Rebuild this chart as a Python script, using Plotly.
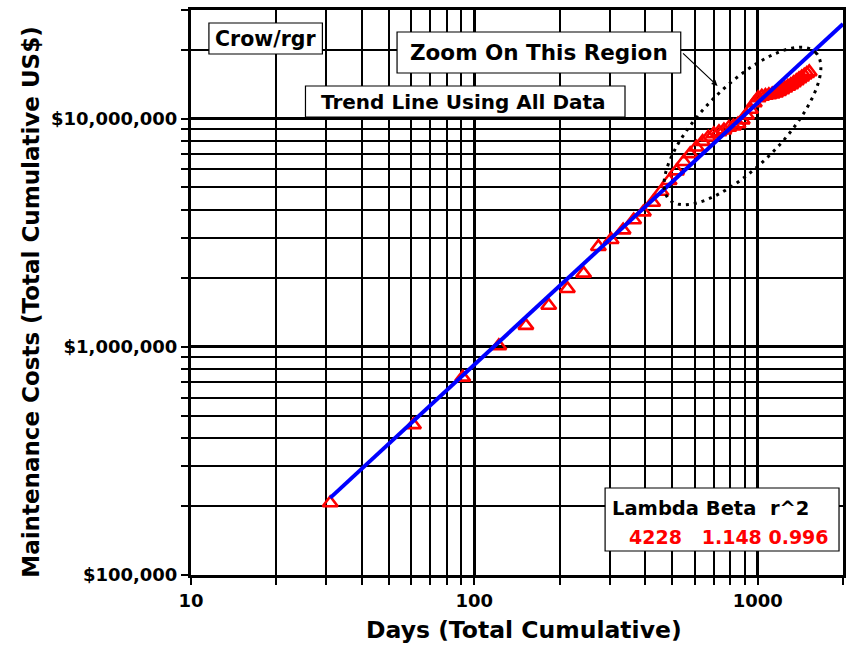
import math
import plotly.graph_objects as go

# ---------------- data ----------------
days = [31, 61, 91, 122, 152, 183, 213, 243, 274, 304, 335, 365, 395, 426, 456, 487,
        517, 548, 578, 608, 639, 669, 700, 730, 760, 791, 821, 852, 882, 913, 943, 973,
        1004, 1034, 1065, 1095, 1125, 1156, 1186, 1217, 1247, 1278, 1308, 1338, 1369,
        1399, 1430, 1460, 1490, 1520]
costs = [207000, 455000, 735000, 1010000, 1240000, 1520000, 1800000, 2100000,
         2750000, 2950000, 3250000, 3600000, 3900000, 4300000, 4800000, 5350000,
         5900000, 6480000, 7020000, 7500000, 7940000, 8300000, 8580000, 8760000,
         8920000, 9160000, 9280000, 9490000, 9870000, 10370000, 10990000, 11730000,
         12350000, 12550000, 12650000, 12720000, 12820000, 12950000, 13150000, 13400000,
         13630000, 13860000, 14080000, 14370000, 14660000, 14950000, 15240000, 15520000,
         15790000, 16050000]

LAMBDA = 4228
BETA = 1.148
R2 = 0.996
trend_days = [31, 2000]
trend_costs = [LAMBDA * d ** BETA for d in trend_days]

x_tickvals = [10, 100, 1000]
x_ticktext = ["10", "100", "1000"]
y_tickvals = [1e5, 1e6, 1e7]
y_ticktext = ["$100,000", "$1,000,000", "$10,000,000"]

# ---------------- layout helpers ----------------
W, H = 847, 645
ML, MR, MT, MB = 191, 1, 10, 70
PW = W - ML - MR
PH = H - MT - MB
FONT = "DejaVu Sans"


def px(x):
    return (x - ML) / PW


def py(y):
    return (MT + PH - y) / PH


fig = go.Figure()
fig.add_trace(go.Scatter(
    x=days, y=costs, mode="markers",
    marker=dict(symbol="triangle-up-open", size=13, color="red",
                line=dict(width=2.6, color="red")),
    showlegend=False, cliponaxis=True))
fig.add_trace(go.Scatter(
    x=trend_days, y=trend_costs, mode="lines",
    line=dict(color="#0000FF", width=4), showlegend=False))

axis_common = dict(
    type="log", showline=True, linecolor="black", linewidth=3, mirror=True,
    showgrid=True, gridcolor="black", gridwidth=3, zeroline=False,
    ticks="outside", ticklen=7, tickwidth=2, tickcolor="black",
    tickfont=dict(family=FONT, size=18, color="black", weight="bold"),
    minor=dict(dtick="D1", showgrid=True, gridcolor="black", gridwidth=1.6,
               ticks="outside", ticklen=7, tickwidth=1.5, tickcolor="black"),
)

fig.update_xaxes(range=[1, math.log10(2000)], tickvals=x_tickvals,
                 ticktext=x_ticktext, **axis_common)
fig.update_yaxes(range=[5, math.log10(3e7)], tickvals=y_tickvals,
                 ticktext=y_ticktext, **axis_common)

shapes = []
annotations = []

# dotted ellipse around the zoom region
cx, cy, a, b = 745, 126, 104, 40
c45 = math.cos(math.pi / 4)
pts = []
for i in range(0, 97):
    phi = 2 * math.pi * i / 96
    xx = cx + a * math.cos(phi) * c45 + b * math.sin(phi) * c45
    yy = cy - a * math.cos(phi) * c45 + b * math.sin(phi) * c45
    pts.append((px(xx), py(yy)))
path = "M " + " L ".join(f"{p[0]:.5f},{p[1]:.5f}" for p in pts) + " Z"
shapes.append(dict(type="path", xref="paper", yref="paper", path=path,
                   line=dict(color="black", width=3, dash="3px,5px")))


def box(x0, y0, x1, y1):
    shapes.append(dict(type="rect", xref="paper", yref="paper",
                       x0=px(x0), x1=px(x1), y0=py(y1), y1=py(y0),
                       fillcolor="white", line=dict(color="black", width=1.2),
                       layer="above"))


def text(x, y, s, size, color="black", xanchor="center"):
    annotations.append(dict(xref="paper", yref="paper", x=px(x), y=py(y),
                            text=s, showarrow=False, xanchor=xanchor,
                            yanchor="middle",
                            font=dict(family=FONT, size=size, color=color,
                                      weight="bold")))


box(209, 23, 323, 54)
text(266, 39, "Crow/rgr", 20.5)

box(398, 32, 683, 73)
text(541, 53, "Zoom On This Region", 21.5)

box(306, 86, 627, 117)
text(465, 102, "Trend Line Using All Data", 20)

box(607, 488, 842, 551)
text(612, 508, "Lambda Beta&nbsp;&nbsp;r^2", 19.5, xanchor="left")
text(629, 537, f"{LAMBDA}&nbsp;&nbsp;&nbsp;{BETA:.3f} {R2:.3f}", 19, color="red",
     xanchor="left")

# arrow pointing at the ellipse
annotations.append(dict(xref="paper", yref="paper", x=px(720), y=py(86),
                        ax=-36, ay=-34, text="", showarrow=True, arrowhead=2,
                        arrowsize=1, arrowwidth=1.2, arrowcolor="black"))

# axis titles
text(526, 630, "Days (Total Cumulative)", 23.5)
annotations.append(dict(xref="paper", yref="paper", x=px(30), y=py(302),
                        text="Maintenance Costs (Total Cumulative US$)",
                        textangle=-90, showarrow=False, xanchor="center",
                        yanchor="middle",
                        font=dict(family=FONT, size=23, color="black",
                                  weight="bold")))

fig.update_layout(
    width=W, height=H, margin=dict(l=ML, r=MR, t=MT, b=MB, pad=0),
    paper_bgcolor="white", plot_bgcolor="white",
    shapes=shapes, annotations=annotations, showlegend=False,
)

fig.write_html(
    "out.html",
    config={"displayModeBar": False},
    post_script="document.body.style.margin='0';document.body.style.padding='0';"
                "document.body.style.overflow='hidden';",
)
